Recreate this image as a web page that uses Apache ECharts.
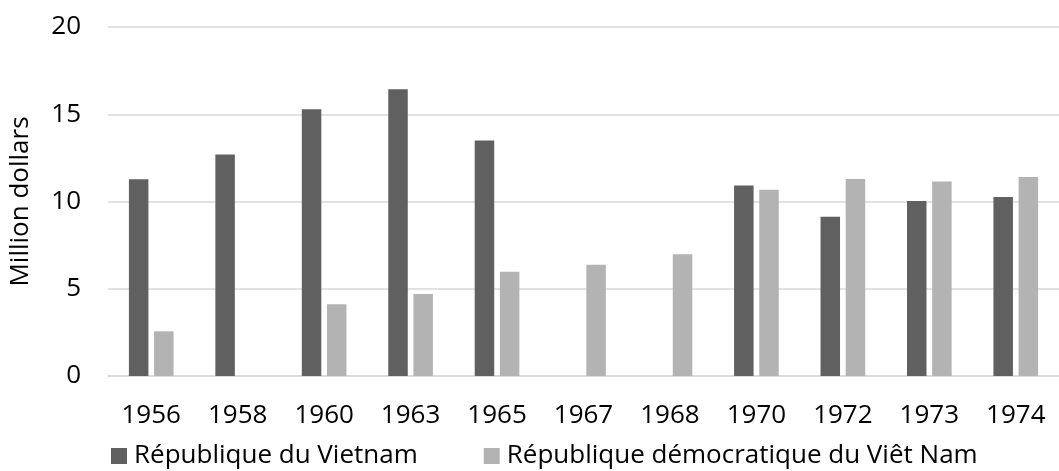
<!DOCTYPE html>
<html>
<head>
<meta charset="utf-8">
<script src="https://cdn.jsdelivr.net/npm/echarts@6/dist/echarts.min.js"></script>
<style>
html,body{margin:0;padding:0;background:#fff;}
#chart{width:1059px;height:471px;}
</style>
</head>
<body>
<div id="chart"></div>
<script>
const years = ['1956','1958','1960','1963','1965','1967','1968','1970','1972','1973','1974'];
const seriesNames = ['République du Vietnam','République démocratique du Viêt Nam'];
const rvn = [11.27, 12.7, 15.28, 16.43, 13.5, null, null, 10.91, 9.13, 10.03, 10.26];
const drv = [2.56, null, 4.11, 4.70, 5.98, 6.38, 6.97, 10.68, 11.29, 11.14, 11.40];
const yTicks = {min: 0, max: 20, interval: 5};
const yName = 'Million dollars';

const FONT = 'Open Sans';
const FS = 26;
const chart = echarts.init(document.getElementById('chart'), null, {renderer: 'canvas'});
chart.setOption({
  animation: false,
  backgroundColor: '#ffffff',
  textStyle: {fontFamily: FONT},
  grid: {left: 104, width: 961, top: 27, bottom: 95, containLabel: false},
  legend: {
    data: seriesNames,
    left: 111, top: 443,
    padding: 0,
    itemWidth: 16, itemHeight: 16, itemGap: 66,
    icon: 'rect',
    textStyle: {fontFamily: FONT, fontSize: FS, color: '#000', padding: [0,0,0,2]}
  },
  xAxis: {
    type: 'category',
    data: years,
    axisLine: {show: true, lineStyle: {color: '#d9d9d9', width: 1.5}},
    axisTick: {show: false},
    axisLabel: {fontFamily: FONT, fontSize: FS, color: '#000', margin: 27, interval: 0}
  },
  yAxis: {
    type: 'value',
    min: yTicks.min, max: yTicks.max, interval: yTicks.interval,
    name: yName,
    nameLocation: 'middle',
    nameRotate: 90,
    nameGap: 74,
    nameTextStyle: {fontFamily: FONT, fontSize: FS, color: '#000'},
    axisLine: {show: false},
    axisTick: {show: false},
    axisLabel: {fontFamily: FONT, fontSize: FS, color: '#000', margin: 27},
    splitLine: {lineStyle: {color: '#d9d9d9', width: 1.5}}
  },
  series: [
    {name: seriesNames[0], type: 'bar', data: rvn, barWidth: 19.5, barGap: '29%',
     itemStyle: {color: '#606060'}},
    {name: seriesNames[1], type: 'bar', data: drv, barWidth: 19.5, barGap: '29%',
     itemStyle: {color: '#b3b3b3'}}
  ]
});
</script>
</body>
</html>
